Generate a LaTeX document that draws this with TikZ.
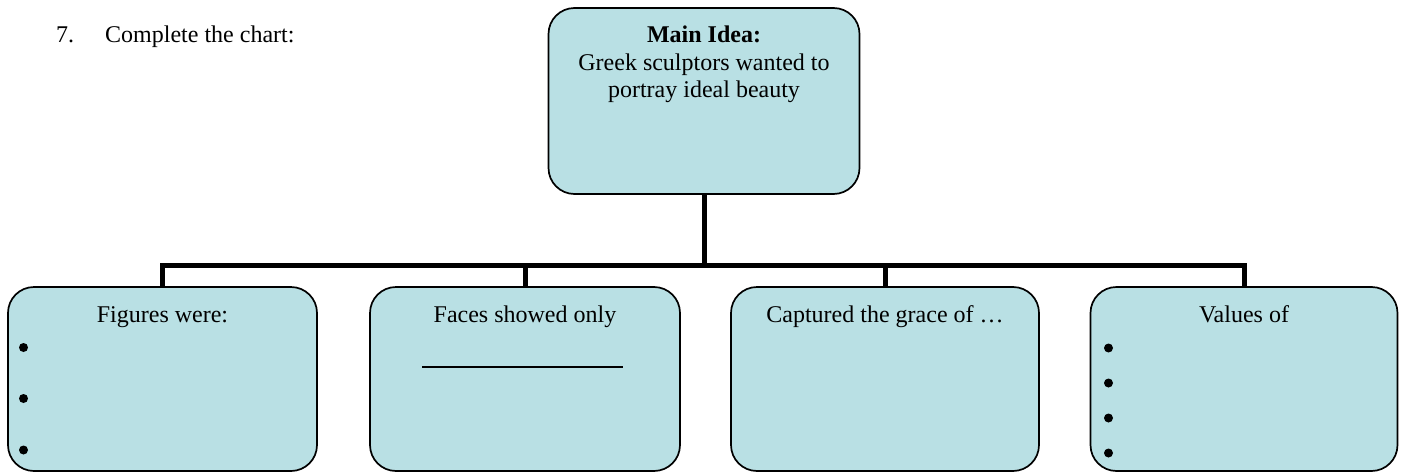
\documentclass[tikz,border=0pt]{standalone}
\usepackage{fontspec}
\setmainfont{Liberation Serif}
\definecolor{boxfill}{RGB}{185,224,228}
\begin{document}
\begin{tikzpicture}[x=1pt,y=-1pt,
  box/.style={draw=black,line width=1.7pt,fill=boxfill,rounded corners=26pt,
    rectangle,inner sep=0pt,outer sep=0pt},
  conn/.style={draw=black,line width=5pt,line join=miter,line cap=butt},
  txt/.style={inner sep=0pt,anchor=base,font=\fontsize{24}{27.5}\selectfont},
  dot/.style={circle,fill=black,inner sep=0pt,minimum size=9pt}]
\useasboundingbox (0,0) rectangle (1409,474);
% main box
\node[box,minimum width=311pt,minimum height=186pt] (main) at (704,101) {};
% bottom boxes
\node[box,minimum width=309pt,minimum height=184pt] (b1) at (162.5,379) {};
\node[box,minimum width=310pt,minimum height=184pt] (b2) at (525,379) {};
\node[box,minimum width=308pt,minimum height=184pt] (b3) at (885,379) {};
\node[box,minimum width=307pt,minimum height=184pt] (b4) at (1244,379) {};
% connectors
\coordinate (bar) at (704,265.5);
\draw[conn] (main.south) -- (bar);
\draw[conn] (b1.north) |- (bar) -| (b4.north);
\draw[conn] (b2.north) -- (b2.north |- bar);
\draw[conn] (b3.north) -- (b3.north |- bar);
% heading text
\node[txt,anchor=base west] (num) at (56,42) {7.};
\node[txt,anchor=base west] (q) at (105,42) {Complete the chart:};
% main text
\node[txt] (m1) at (704,42) {\textbf{Main Idea:}};
\node[txt] (m2) at (704,70) {Greek sculptors wanted to};
\node[txt] (m3) at (704,97.5) {portray ideal beauty};
% box texts
\node[txt] (t1) at (162.5,322) {Figures were:};
\node[txt] (t2) at (525,322) {Faces showed only};
\node[txt] (t3) at (885,322) {Captured the grace of \ldots};
\node[txt] (t4) at (1244,322) {Values of};
% blank line in box 2
\coordinate (ul1) at (422,367);
\coordinate (ul2) at (623,367);
\draw[black,line width=1.2pt] (ul1) -- (ul2);
% bullets
\node[dot] (d11) at (23.5,347.5) {};
\node[dot] (d12) at (23.5,398.5) {};
\node[dot] (d13) at (23.5,450) {};
\node[dot] (d41) at (1108.5,348) {};
\node[dot] (d42) at (1108.5,383) {};
\node[dot] (d43) at (1108.5,418) {};
\node[dot] (d44) at (1108.5,453) {};
\end{tikzpicture}
\end{document}
